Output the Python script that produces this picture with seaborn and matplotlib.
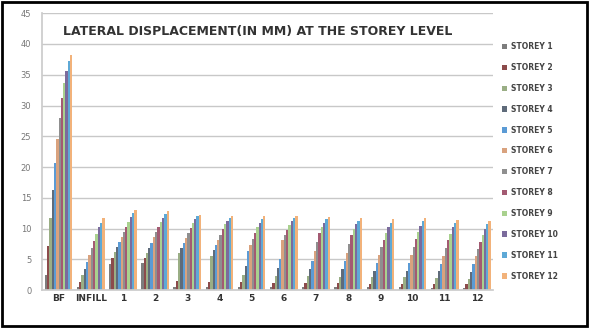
import numpy as np
import pandas as pd
import matplotlib
matplotlib.use("Agg")
import matplotlib.pyplot as plt
import seaborn as sns

# Frame types on the x axis
categories = ["BF", "INFILL", "1", "2", "3", "4", "5", "6", "7", "8", "9", "10", "11", "12"]

storeys = ["STOREY %d" % i for i in range(1, 13)]

# Lateral displacement (mm) per storey, one list per frame type
bf     = [2.5, 7.2, 11.8, 16.3, 20.6, 24.5, 28.0, 31.2, 33.6, 35.6, 37.2, 38.2]
infill = [0.5, 1.4, 2.4, 3.5, 4.6, 5.8, 6.9, 8.0, 9.1, 10.2, 11.0, 11.8]
m1     = [4.3, 5.3, 6.2, 7.0, 7.8, 8.7, 9.5, 10.3, 11.1, 11.9, 12.5, 13.1]
m2     = [4.4, 5.2, 6.1, 6.9, 7.7, 8.6, 9.4, 10.3, 11.1, 11.8, 12.4, 12.9]
m3     = [0.6, 1.5, 6.0, 6.9, 7.7, 8.5, 9.3, 10.1, 10.9, 11.5, 12.0, 12.3]
m4     = [0.6, 1.4, 5.6, 6.5, 7.4, 8.2, 9.0, 9.9, 10.7, 11.3, 11.8, 12.1]
m5     = [0.5, 1.3, 2.5, 4.0, 6.3, 7.3, 8.3, 9.3, 10.2, 11.0, 11.5, 12.0]
m6     = [0.5, 1.2, 2.3, 3.6, 5.0, 8.2, 9.0, 9.8, 10.6, 11.3, 11.8, 12.0]
m7     = [0.5, 1.2, 2.3, 3.5, 4.8, 6.3, 7.8, 9.3, 10.2, 11.0, 11.5, 11.9]
m8     = [0.5, 1.2, 2.2, 3.4, 4.7, 6.0, 7.5, 9.0, 10.0, 10.8, 11.3, 11.7]
m9     = [0.5, 1.1, 2.1, 3.2, 4.5, 5.8, 7.0, 8.2, 9.3, 10.3, 11.0, 11.6]
m10    = [0.5, 1.1, 2.1, 3.2, 4.5, 5.8, 7.1, 8.4, 9.5, 10.5, 11.2, 11.7]
m11    = [0.4, 1.0, 2.0, 3.1, 4.3, 5.6, 6.9, 8.1, 9.2, 10.2, 10.9, 11.4]
m12    = [0.4, 1.0, 1.9, 3.0, 4.2, 5.5, 6.7, 7.9, 9.0, 10.0, 10.8, 11.3]

series = [bf, infill, m1, m2, m3, m4, m5, m6, m7, m8, m9, m10, m11, m12]

palette = ["#7d7d7d", "#8c4b4b", "#9aae85", "#5f6b7a", "#5b9bd5", "#d9a27e",
           "#8f8f8f", "#a35a72", "#a9d18e", "#7b6b9c", "#5ea9d6", "#f2b27a"]

rows = []
for cat, vals in zip(categories, series):
    for s, v in zip(storeys, vals):
        rows.append({"frame": cat, "storey": s, "disp": v})
df = pd.DataFrame(rows)

sns.set_theme(style="white")
plt.rcParams["font.family"] = ["DejaVu Sans"]

fig = plt.figure(figsize=(5.89, 3.28), dpi=100)
ax = fig.add_axes([0.072, 0.115, 0.765, 0.845])

sns.barplot(data=df, x="frame", y="disp", hue="storey", palette=palette,
            order=categories, hue_order=storeys, width=0.86,
            linewidth=0, saturation=1, ax=ax)

ax.set_ylim(0, 45)
ax.set_yticks(np.arange(0, 46, 5))
ax.yaxis.grid(True, color="#c8c8c8", linewidth=1.0)
ax.set_axisbelow(True)
ax.set_xlabel("")
ax.set_ylabel("")
ax.tick_params(axis="y", labelsize=6, colors="#777777", length=0, pad=8)
ax.tick_params(axis="x", labelsize=6.5, colors="#333333", length=0, pad=3)
for lbl in ax.get_xticklabels():
    lbl.set_fontweight("bold")
for side in ["top", "right"]:
    ax.spines[side].set_visible(False)
ax.spines["left"].set_color("#cccccc")
ax.spines["bottom"].set_color("#cccccc")

ax.text(0.045, 0.935, "LATERAL DISPLACEMENT(IN MM) AT THE STOREY LEVEL",
        transform=ax.transAxes, fontsize=9, fontweight="bold", color="#333333",
        va="center", ha="left")

leg = ax.legend(loc="center left", bbox_to_anchor=(1.005, 0.465), frameon=False,
                fontsize=5.5, handlelength=0.7, handleheight=0.7,
                handletextpad=0.4, labelspacing=1.55)
for t in leg.get_texts():
    t.set_fontweight("bold")
    t.set_color("#444444")

# Outer frame around the whole chart
fig.patches.append(plt.Rectangle((0.003, 0.005), 0.994, 0.99, transform=fig.transFigure,
                                 fill=False, edgecolor="black", linewidth=2))

fig.savefig("out.png", dpi=100)
